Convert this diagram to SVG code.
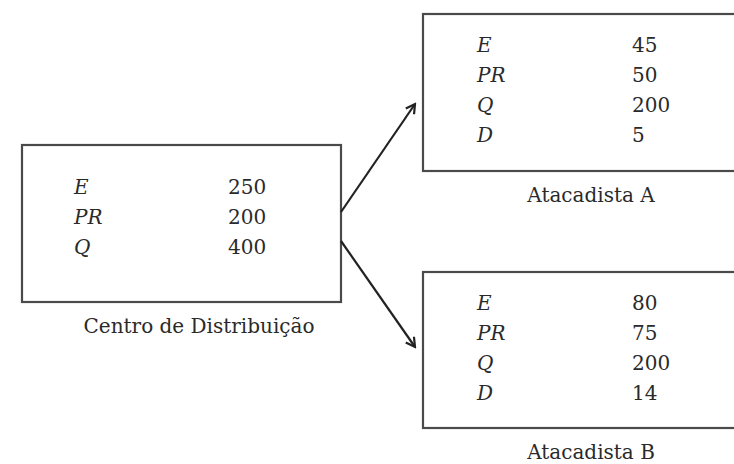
<svg xmlns="http://www.w3.org/2000/svg" width="734" height="464" viewBox="0 0 734 464">
<style>
.box{fill:#fff;stroke:#4a4a4a;stroke-width:2.2}
.t{font-family:"DejaVu Serif","Liberation Serif",serif;font-size:20px;fill:#2a2a2a}
.v{font-style:italic}
.lbl{text-anchor:middle}
.edge{stroke:#222;stroke-width:2.2;fill:none}
</style>
<defs>
<marker id="ah" viewBox="0 0 12 12" refX="10" refY="6" markerWidth="12" markerHeight="12" markerUnits="userSpaceOnUse" orient="auto">
<path d="M1,1 L10,6 L1,11" fill="none" stroke="#222" stroke-width="2.2"/>
</marker>
</defs>
<rect width="734" height="464" fill="#fff"/>
<g id="centro">
<rect class="box" x="22" y="145" width="319" height="157"/>
<text class="t v" x="74" y="194">E</text>
<text class="t v" x="74" y="224">PR</text>
<text class="t v" x="74" y="254">Q</text>
<text class="t" x="228" y="194">250</text>
<text class="t" x="228" y="224">200</text>
<text class="t" x="228" y="254">400</text>
<text class="t lbl" x="199" y="333">Centro de Distribuição</text>
</g>
<g id="atacadistaA">
<rect class="box" x="423" y="14" width="330" height="157"/>
<text class="t v" x="477" y="52">E</text>
<text class="t v" x="477" y="82">PR</text>
<text class="t v" x="477" y="112">Q</text>
<text class="t v" x="477" y="142">D</text>
<text class="t" x="632" y="52">45</text>
<text class="t" x="632" y="82">50</text>
<text class="t" x="632" y="112">200</text>
<text class="t" x="632" y="142">5</text>
<text class="t lbl" x="591" y="202">Atacadista A</text>
</g>
<g id="atacadistaB">
<rect class="box" x="423" y="272" width="330" height="156"/>
<text class="t v" x="477" y="310">E</text>
<text class="t v" x="477" y="340">PR</text>
<text class="t v" x="477" y="370">Q</text>
<text class="t v" x="477" y="400">D</text>
<text class="t" x="632" y="310">80</text>
<text class="t" x="632" y="340">75</text>
<text class="t" x="632" y="370">200</text>
<text class="t" x="632" y="400">14</text>
<text class="t lbl" x="591" y="459">Atacadista B</text>
</g>
<g id="connectors">
<line class="edge" x1="341" y1="212" x2="415" y2="104" marker-end="url(#ah)"/>
<line class="edge" x1="341" y1="241" x2="415" y2="347" marker-end="url(#ah)"/>
</g>
</svg>
